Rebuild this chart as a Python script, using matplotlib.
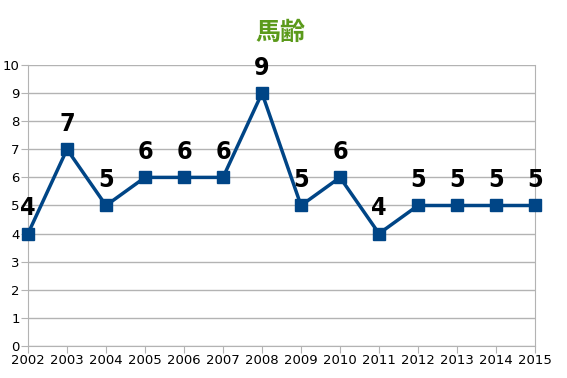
import matplotlib.pyplot as plt

years = [2002, 2003, 2004, 2005, 2006, 2007, 2008, 2009, 2010, 2011, 2012, 2013, 2014, 2015]
ages = [4, 7, 5, 6, 6, 6, 9, 5, 6, 4, 5, 5, 5, 5]
title = '馬齢'

plt.rcParams['font.family'] = ['DejaVu Sans', 'Noto Sans CJK JP']

fig = plt.figure(figsize=(5.67, 3.78), dpi=100)
ax = fig.add_axes([0.0494, 0.0847, 0.8942, 0.7433])

grid_col = '#b3b3b3'
ax.set_xlim(years[0], years[-1])
ax.set_ylim(0, 10)
ax.set_yticks(range(0, 11))
ax.set_xticks(years)
ax.grid(axis='y', color=grid_col, linewidth=1)
ax.set_axisbelow(True)
for s in ['left', 'bottom', 'right', 'top']:
    ax.spines[s].set_color(grid_col)
ax.spines['top'].set_visible(False)
ax.tick_params(color=grid_col, length=5, labelsize=9.5, pad=1)

ax.plot(years, ages, color='#004586', linewidth=2.5, marker='s', markersize=8,
        clip_on=False, zorder=3)

# value labels above each point
for x, y in zip(years, ages):
    ax.text(x, y + 0.48, str(y), ha='center', va='bottom', fontsize=18,
            fontweight='heavy', fontstretch='condensed', color='black')

fig.text(0.494, 0.912, title, ha='center', va='center', fontsize=18,
         fontweight='bold', color='#5b9a1b', family=['Noto Sans CJK JP'])

fig.savefig('out.png', dpi=100)
